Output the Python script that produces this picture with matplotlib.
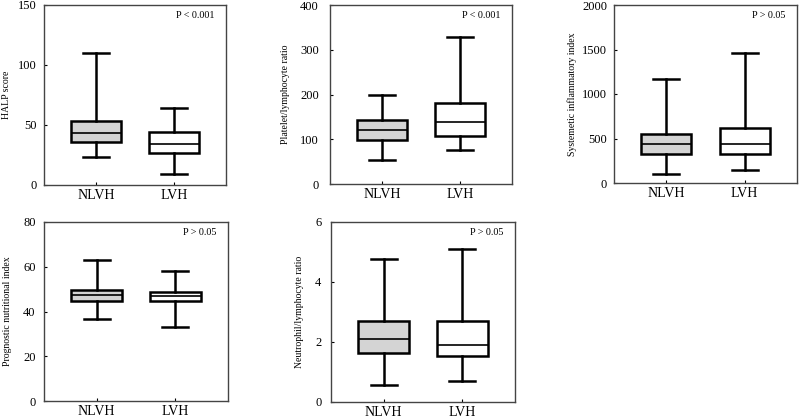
import matplotlib
matplotlib.use("Agg")
import matplotlib.pyplot as plt

plt.rcParams['font.family'] = ['Liberation Serif', 'DejaVu Serif']

groups = ["NLVH", "LVH"]

# (whisker low, Q1, median, Q3, whisker high) per group
halp = [(23, 35.6, 43, 53.6, 110.3), (9.2, 26.7, 33.9, 44.2, 64.4)]
plr = [(53, 99, 121.6, 142, 199), (75, 108, 139, 180, 328)]
sii = [(101, 326, 443, 555, 1163), (143, 323, 443, 619, 1456)]
pni = [(36.6, 44.8, 47.3, 49.4, 62.8), (33.1, 44.9, 46.9, 48.5, 58.2)]
nlr = [(0.56, 1.63, 2.11, 2.71, 4.77), (0.70, 1.53, 1.91, 2.69, 5.11)]

ylabels = ["HALP score", "Platelet/lymphocyte ratio", "Systemetic inflammatory index",
           "Prognostic nutritional index", "Neutrophil/lymphocyte ratio"]
pvalues = ["P < 0.001", "P < 0.001", "P > 0.05", "P > 0.05", "P > 0.05"]
ylims = [150, 400, 2000, 80, 6]
yticks = [[0, 50, 100, 150], [0, 100, 200, 300, 400], [0, 500, 1000, 1500, 2000],
          [0, 20, 40, 60, 80], [0, 2, 4, 6]]
datasets = [halp, plr, sii, pni, nlr]
fills = ["#d4d4d4", "white"]

W, H = 800, 418
# axes rectangles in pixels: left, top, right, bottom
rects = [(44, 5, 226, 185), (330, 5, 512, 184), (614, 5, 797, 183),
         (44, 222, 228, 401), (331, 222, 515, 402)]
# distance of the y label centre left of the axis, pixels
label_off = [37, 45, 42, 36, 31]
tick_pad = [5, 8, 5, 6, 7]

fig = plt.figure(figsize=(8, 4.18), dpi=100)

for i, data in enumerate(datasets):
    l, t, r, b = rects[i]
    w = r - l
    ax = fig.add_axes([l / W, 1 - b / H, w / W, (b - t) / H])
    stats = []
    for g, (lo, q1, med, q3, hi) in zip(groups, data):
        stats.append({"label": g, "whislo": lo, "q1": q1, "med": med,
                      "q3": q3, "whishi": hi, "fliers": []})
    lw = 1.8
    bp = ax.bxp(stats, positions=[1, 2], widths=0.64, patch_artist=True,
                showfliers=False,
                boxprops=dict(linewidth=lw, edgecolor="black"),
                whiskerprops=dict(linewidth=lw, color="black"),
                capprops=dict(linewidth=lw, color="black"),
                medianprops=dict(linewidth=1.2, color="black"),
                capwidths=0.33)
    for patch, fc in zip(bp["boxes"], fills):
        patch.set_facecolor(fc)

    ax.set_xlim(0.332, 2.668)
    ax.set_ylim(0, ylims[i])
    ax.set_yticks(yticks[i])
    ax.set_xticks([1, 2])
    ax.set_xticklabels(groups)
    ax.tick_params(direction="in", length=2, width=0.8, labelsize=9)
    ax.tick_params(axis="y", pad=tick_pad[i])
    ax.tick_params(axis="x", pad=3, labelsize=10)
    ax.set_ylabel(ylabels[i], fontsize=7, va="center")
    ax.yaxis.set_label_coords(-label_off[i] / w, 0.5)
    for s in ax.spines.values():
        s.set_linewidth(1.0)
        s.set_color("#444444")
    ax.text(1 - 12 / w, 0.94, pvalues[i], transform=ax.transAxes, ha="right",
            va="center", fontsize=7.3)

fig.savefig("out.png", dpi=100)
